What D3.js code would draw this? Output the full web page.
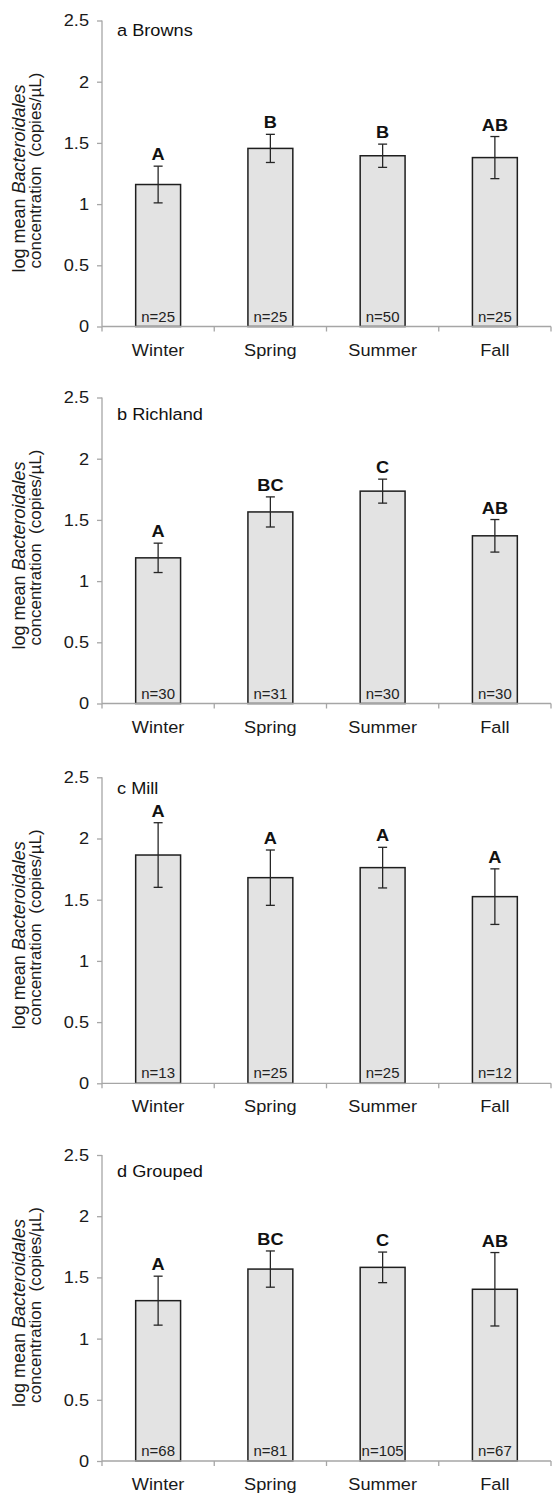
<!DOCTYPE html>
<html><head><meta charset="utf-8">
<script src="https://cdn.jsdelivr.net/npm/d3@7"></script>
<style>body{margin:0;background:#fff}svg{display:block}</style>
</head><body>
<script>
const seasons = ["Winter","Spring","Summer","Fall"];
const yTicks = [0,0.5,1,1.5,2,2.5];
const panelTitles = ["a Browns","b Richland","c Mill","d Grouped"];

const meansBrowns = [1.16,1.455,1.395,1.38];
const errBrowns = [0.15,0.115,0.095,0.172];
const lettersBrowns = ["A","B","B","AB"];
const nBrowns = ["n=25","n=25","n=50","n=25"];

const meansRichland = [1.19,1.565,1.735,1.37];
const errRichland = [0.12,0.123,0.098,0.133];
const lettersRichland = ["A","BC","C","AB"];
const nRichland = ["n=30","n=31","n=30","n=30"];

const meansMill = [1.865,1.68,1.762,1.525];
const errMill = [0.264,0.226,0.166,0.227];
const lettersMill = ["A","A","A","A"];
const nMill = ["n=13","n=25","n=25","n=12"];

const meansGrouped = [1.31,1.568,1.582,1.403];
const errGrouped = [0.2,0.148,0.125,0.3];
const lettersGrouped = ["A","BC","C","AB"];
const nGrouped = ["n=68","n=81","n=105","n=67"];

const panels = [
  {title: panelTitles[0], means: meansBrowns, errs: errBrowns, letters: lettersBrowns, ns: nBrowns},
  {title: panelTitles[1], means: meansRichland, errs: errRichland, letters: lettersRichland, ns: nRichland},
  {title: panelTitles[2], means: meansMill, errs: errMill, letters: lettersMill, ns: nMill},
  {title: panelTitles[3], means: meansGrouped, errs: errGrouped, letters: lettersGrouped, ns: nGrouped}
];

// layout
const W = 555, H = 1493;
const panelTops = [20.5, 397.5, 777.3, 1155];
const titleDy = [15.5, 22.5, 17, 21.5];
const plotH = 306;
const x0 = 102, x1 = 551;
const SX = 1.07;
const FONT = "'Liberation Sans', Arial, Helvetica, sans-serif";

const svg = d3.select("body").append("svg").attr("width", W).attr("height", H)
  .style("font-family", FONT);

const x = d3.scaleBand().domain(seasons).range([x0, x1]).paddingInner(0.6).paddingOuter(0.3);
const xb = d3.scaleLinear().domain([0, seasons.length]).range([x0, x1]);

panels.forEach((p, pi) => {
  const top = panelTops[pi];
  const y = d3.scaleLinear().domain([0, 2.5]).range([top + plotH, top]);
  const g = svg.append("g");
  const data = seasons.map((s, i) => ({s, m: p.means[i], e: p.errs[i], l: p.letters[i], n: p.ns[i]}));

  // y axis
  const ya = g.append("g").attr("transform", `translate(${x0},0)`)
    .call(d3.axisLeft(y).tickValues(yTicks).tickSize(5).tickPadding(7).tickFormat(d => String(d)));
  ya.select(".domain").attr("stroke", "#a6a6a6").attr("stroke-width", 1.3).attr("d", `M0,${y(2.5)}V${y(0)}`);
  ya.selectAll(".tick line").attr("stroke", "#a6a6a6").attr("stroke-width", 1.3);
  ya.selectAll(".tick text").attr("font-size", 17).attr("fill", "#1a1a1a")
    .attr("font-family", FONT).attr("transform", `scale(${SX},1)`).attr("x", -13 / SX);

  // bars
  g.selectAll("rect.bar").data(data).join("rect").attr("class", "bar")
    .attr("x", d => x(d.s)).attr("width", x.bandwidth())
    .attr("y", d => y(d.m)).attr("height", d => y(0) - y(d.m))
    .attr("fill", "#e3e3e3").attr("stroke", "#1e1e1e").attr("stroke-width", 1.5);

  // x axis
  const xa = g.append("g").attr("transform", `translate(0,${y(0)})`)
    .call(d3.axisBottom(x).tickSize(0).tickPadding(17));
  xa.select(".domain").attr("stroke", "#a6a6a6").attr("stroke-width", 1.3).attr("d", `M${x0},0H${x1}`);
  xa.selectAll(".tick text").attr("font-size", 17).attr("fill", "#1a1a1a").attr("font-family", FONT)
    .attr("transform", `scale(${SX},1)`);
  g.append("g").attr("transform", `translate(0,${y(0)})`)
    .selectAll("line").data(d3.range(seasons.length + 1)).join("line")
    .attr("x1", d => xb(d)).attr("x2", d => xb(d)).attr("y1", 0).attr("y2", 5)
    .attr("stroke", "#a6a6a6").attr("stroke-width", 1.3);

  // error bars
  const eg = g.selectAll("g.err").data(data).join("g").attr("class", "err")
    .attr("stroke", "#262626").attr("stroke-width", 1.3);
  const cx = d => x(d.s) + x.bandwidth() / 2;
  eg.append("line").attr("x1", cx).attr("x2", cx).attr("y1", d => y(d.m + d.e)).attr("y2", d => y(d.m - d.e));
  eg.append("line").attr("x1", d => cx(d) - 4.5).attr("x2", d => cx(d) + 4.5).attr("y1", d => y(d.m + d.e)).attr("y2", d => y(d.m + d.e));
  eg.append("line").attr("x1", d => cx(d) - 4.5).attr("x2", d => cx(d) + 4.5).attr("y1", d => y(d.m - d.e)).attr("y2", d => y(d.m - d.e));

  // significance letters
  g.selectAll("text.let").data(data).join("text").attr("class", "let")
    .attr("transform", d => `translate(${cx(d)},${y(d.m + d.e) - 6}) scale(${SX},1)`)
    .attr("text-anchor", "middle").attr("font-size", 17).attr("font-weight", "bold").attr("fill", "#111")
    .text(d => d.l);

  // n labels
  g.selectAll("text.n").data(data).join("text").attr("class", "n")
    .attr("transform", d => `translate(${cx(d)},${y(0) - 5}) scale(${SX},1)`)
    .attr("text-anchor", "middle").attr("font-size", 14).attr("fill", "#222")
    .text(d => d.n);

  // panel title
  g.append("text").attr("transform", `translate(117,${top + titleDy[pi]}) scale(${SX},1)`)
    .attr("font-size", 17).attr("fill", "#111").text(p.title);

  // y-axis label (two lines)
  const l1 = g.append("text").attr("transform", `translate(25,${top + 158}) rotate(-90)`)
    .attr("text-anchor", "middle").attr("font-size", 18).attr("fill", "#1a1a1a");
  l1.append("tspan").text("log mean ");
  l1.append("tspan").attr("font-style", "italic").text("Bacteroidales");
  g.append("text").attr("transform", `translate(41,${top + 150}) rotate(-90)`)
    .attr("text-anchor", "middle").attr("font-size", 17).attr("fill", "#1a1a1a")
    .attr("xml:space", "preserve").style("white-space", "pre")
    .text("concentration  (copies/µL)");
});
</script>
</body></html>
